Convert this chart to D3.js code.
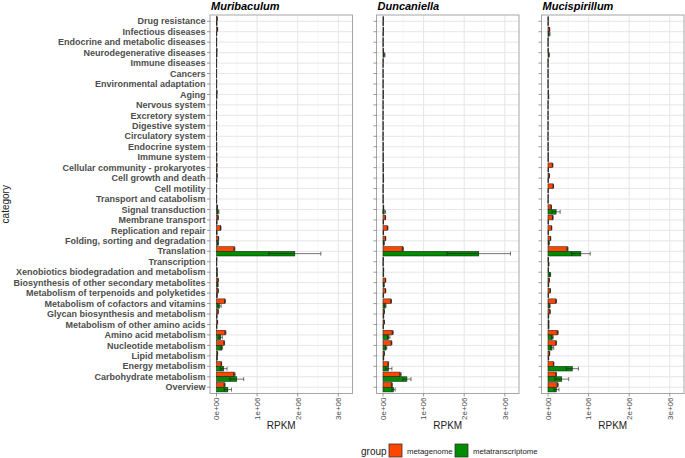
<!DOCTYPE html>
<html>
<head>
<meta charset="utf-8">
<script src="https://cdn.jsdelivr.net/npm/d3@7/dist/d3.min.js"></script>
<style>
  body { margin: 0; background: #fff; }
  svg { display: block; font-family: "Liberation Sans", Arial, sans-serif; }
</style>
</head>
<body>
<svg id="chart" width="685" height="458"></svg>
<script>
// ---------------- DATA ----------------
const categories = [
  "Drug resistance", "Infectious diseases", "Endocrine and metabolic diseases",
  "Neurodegenerative diseases", "Immune diseases", "Cancers", "Environmental adaptation",
  "Aging", "Nervous system", "Excretory system", "Digestive system", "Circulatory system",
  "Endocrine system", "Immune system", "Cellular community - prokaryotes",
  "Cell growth and death", "Cell motility", "Transport and catabolism", "Signal transduction",
  "Membrane transport", "Replication and repair", "Folding, sorting and degradation",
  "Translation", "Transcription", "Xenobiotics biodegradation and metabolism",
  "Biosynthesis of other secondary metabolites", "Metabolism of terpenoids and polyketides",
  "Metabolism of cofactors and vitamins", "Glycan biosynthesis and metabolism",
  "Metabolism of other amino acids", "Amino acid metabolism", "Nucleotide metabolism",
  "Lipid metabolism", "Energy metabolism", "Carbohydrate metabolism", "Overview"
];
const taxa = ["Muribaculum", "Duncaniella", "Mucispirillum"];
const groups = ["metagenome", "metatranscriptome"];
const groupColors = ["#FF4500", "#008B00"];
const xTicks = [0, 1e6, 2e6, 3e6];
const xTickLabels = ["0e+00", "1e+06", "2e+06", "3e+06"];
const xMinorTicks = [0.5e6, 1.5e6, 2.5e6];

// Muribaculum
const muriMG = [15000,25000,5000,10000,4000,3000,5000,12000,3000,2000,3000,2000,6000,8000,12000,15000,4000,5000,20000,40000,105000,50000,440000,8000,15000,40000,40000,210000,40000,25000,220000,190000,25000,120000,440000,200000];
const muriMGsd = [3000,5000,1000,2000,1000,1000,1000,3000,1000,1000,1000,1000,1000,2000,3000,3000,1000,1000,4000,5000,8000,5000,15000,2000,3000,5000,5000,10000,5000,4000,15000,10000,4000,8000,20000,15000];
const muriMT = [8000,5000,3000,8000,2000,2000,3000,8000,2000,1000,2000,1000,4000,6000,8000,8000,3000,4000,40000,10000,10000,40000,1930000,5000,15000,30000,15000,75000,10000,8000,105000,130000,15000,180000,500000,280000];
const muriMTsd = [3000,2000,1000,3000,1000,1000,1000,3000,1000,1000,1000,1000,2000,2000,3000,3000,1000,2000,20000,4000,4000,10000,640000,2000,5000,15000,5000,40000,4000,3000,40000,20000,5000,80000,170000,90000];

// Duncaniella
const duncMG = [8000,10000,3000,8000,3000,2000,3000,6000,2000,2000,2000,2000,4000,5000,6000,8000,3000,4000,15000,60000,115000,65000,490000,6000,15000,65000,65000,200000,30000,30000,240000,210000,30000,130000,430000,220000];
const duncMGsd = [2000,2000,1000,2000,1000,1000,1000,2000,1000,1000,1000,1000,1000,1000,2000,2000,1000,1000,3000,5000,8000,5000,15000,2000,3000,5000,5000,10000,4000,4000,15000,10000,4000,8000,20000,15000];
const duncMT = [5000,5000,3000,30000,2000,2000,2000,5000,2000,1000,2000,1000,3000,5000,6000,10000,3000,4000,30000,8000,10000,25000,2360000,4000,12000,25000,10000,55000,15000,8000,140000,75000,15000,140000,590000,260000];
const duncMTsd = [2000,2000,1000,20000,1000,1000,1000,2000,1000,1000,1000,1000,1000,2000,2000,5000,1000,2000,35000,3000,4000,8000,780000,2000,4000,8000,4000,20000,5000,3000,30000,20000,5000,80000,100000,40000];

// Mucispirillum
const muciMG = [5000,40000,3000,5000,2000,2000,2000,8000,2000,1000,2000,1000,4000,6000,115000,30000,130000,5000,80000,120000,90000,65000,480000,6000,10000,30000,55000,200000,50000,20000,240000,200000,40000,140000,200000,240000];
const muciMGsd = [1000,5000,1000,1000,1000,1000,1000,2000,1000,1000,1000,1000,1000,1000,8000,4000,8000,1000,6000,8000,6000,5000,15000,2000,2000,4000,5000,10000,5000,3000,15000,10000,4000,8000,10000,15000];
const muciMT = [3000,30000,2000,25000,2000,2000,2000,15000,1000,1000,1000,1000,3000,5000,8000,6000,5000,3000,200000,8000,8000,25000,810000,20000,55000,15000,10000,40000,15000,20000,110000,100000,15000,600000,340000,210000];
const muciMTsd = [1000,20000,1000,8000,1000,1000,1000,5000,1000,1000,1000,1000,1000,2000,3000,3000,2000,1000,100000,3000,3000,8000,230000,5000,10000,5000,4000,15000,5000,5000,20000,40000,5000,150000,170000,60000];

const seriesByTaxon = [
  [[muriMG, muriMGsd], [muriMT, muriMTsd]],
  [[duncMG, duncMGsd], [duncMT, duncMTsd]],
  [[muciMG, muciMGsd], [muciMT, muciMTsd]]
];

// ---------------- LAYOUT ----------------
const svg = d3.select("#chart");
const panelLefts = [210, 376.5, 541.5];
const panelW = 142.5;
const panelTop = 15, panelBottom = 393.5;

const y = d3.scaleBand()
  .domain(categories)
  .range([panelTop, panelBottom])
  .paddingInner(0)
  .paddingOuter(0.1);
const dodge = d3.scaleBand().domain(groups).range([0, y.bandwidth() * 0.9]).padding(0);

const textGray = "#4d4d4d";

taxa.forEach((taxon, ti) => {
  const left = panelLefts[ti];
  const x = d3.scaleLinear().domain([-0.16e6, 3.35e6]).range([left, left + panelW]);
  const g = svg.append("g");

  g.append("rect").attr("x", left).attr("y", panelTop).attr("width", panelW)
    .attr("height", panelBottom - panelTop).attr("fill", "#fff");

  g.selectAll(".minor").data(xMinorTicks).join("line")
    .attr("x1", d => x(d)).attr("x2", d => x(d))
    .attr("y1", panelTop).attr("y2", panelBottom)
    .attr("stroke", "#f2f2f2").attr("stroke-width", 0.6);
  g.selectAll(".majx").data(xTicks).join("line")
    .attr("x1", d => x(d)).attr("x2", d => x(d))
    .attr("y1", panelTop).attr("y2", panelBottom)
    .attr("stroke", "#e6e6e6").attr("stroke-width", 1);
  g.selectAll(".majy").data(categories).join("line")
    .attr("x1", left).attr("x2", left + panelW)
    .attr("y1", d => y(d) + y.bandwidth() / 2).attr("y2", d => y(d) + y.bandwidth() / 2)
    .attr("stroke", "#e6e6e6").attr("stroke-width", 1);

  groups.forEach((grp, gi) => {
    const vals = seriesByTaxon[ti][gi][0];
    const sds = seriesByTaxon[ti][gi][1];
    const data = categories.map((c, i) => ({ c, v: vals[i], sd: sds[i] }));
    const off = y.bandwidth() * 0.05;
    g.append("g").selectAll("rect").data(data).join("rect")
      .attr("x", x(0))
      .attr("y", d => y(d.c) + off + dodge(grp))
      .attr("width", d => Math.max(0, x(d.v) - x(0)))
      .attr("height", dodge.bandwidth())
      .attr("fill", groupColors[gi])
      .attr("stroke", "#1a1a1a").attr("stroke-width", 0.5);
    const eg = g.append("g").attr("stroke", "#1a1a1a").attr("stroke-width", 0.6);
    data.forEach(d => {
      const cy = y(d.c) + off + dodge(grp) + dodge.bandwidth() / 2;
      const x1 = x(d.v - d.sd), x2 = x(d.v + d.sd);
      eg.append("line").attr("x1", x1).attr("x2", x2).attr("y1", cy).attr("y2", cy);
      eg.append("line").attr("x1", x1).attr("x2", x1).attr("y1", cy - 2).attr("y2", cy + 2);
      eg.append("line").attr("x1", x2).attr("x2", x2).attr("y1", cy - 2).attr("y2", cy + 2);
    });
  });

  g.append("rect").attr("x", left).attr("y", panelTop).attr("width", panelW)
    .attr("height", panelBottom - panelTop).attr("fill", "none")
    .attr("stroke", "#a6a6a6").attr("stroke-width", 1);

  g.selectAll(".yt").data(categories).join("line")
    .attr("x1", left - 3).attr("x2", left)
    .attr("y1", d => y(d) + y.bandwidth() / 2).attr("y2", d => y(d) + y.bandwidth() / 2)
    .attr("stroke", "#555").attr("stroke-width", 0.6);

  g.selectAll(".xt").data(xTicks).join("line")
    .attr("x1", d => x(d)).attr("x2", d => x(d))
    .attr("y1", panelBottom).attr("y2", panelBottom + 3)
    .attr("stroke", "#555").attr("stroke-width", 0.6);
  g.selectAll(".xl").data(xTicks).join("text")
    .attr("transform", d => `translate(${x(d)},${panelBottom + 4}) rotate(-90)`)
    .attr("text-anchor", "end").attr("dy", "0.35em")
    .attr("font-size", 8).attr("fill", textGray)
    .text((d, i) => xTickLabels[i]);

  g.append("text").attr("x", left + panelW / 2).attr("y", 428.5)
    .attr("text-anchor", "middle").attr("font-size", 10).attr("fill", "#222")
    .text("RPKM");

  g.append("text").attr("x", left + 1).attr("y", 9.6)
    .attr("font-size", 11).attr("font-weight", "bold").attr("font-style", "italic")
    .attr("fill", "#000").text(taxon);

  if (ti === 0) {
    g.selectAll(".yl").data(categories).join("text")
      .attr("x", left - 4.5).attr("y", d => y(d) + y.bandwidth() / 2)
      .attr("dy", "0.35em").attr("text-anchor", "end")
      .attr("font-size", 9).attr("font-weight", "bold").attr("fill", textGray)
      .text(d => d);
  }
});

svg.append("text").attr("transform", `translate(8.5,${(panelTop + panelBottom) / 2}) rotate(-90)`)
  .attr("text-anchor", "middle").attr("font-size", 10).attr("fill", "#222")
  .text("category");

const lg = svg.append("g");
lg.append("text").attr("x", 361).attr("y", 455).attr("font-size", 10).attr("fill", "#222").text("group");
const keyX = [389, 455];
groups.forEach((grp, gi) => {
  lg.append("rect").attr("x", keyX[gi]).attr("y", 444).attr("width", 13).attr("height", 13)
    .attr("fill", groupColors[gi]).attr("stroke", "#333").attr("stroke-width", 0.8);
  lg.append("text").attr("x", keyX[gi] + 18).attr("y", 453.5).attr("font-size", 7.8)
    .attr("fill", "#222").text(grp);
});
</script>
</body>
</html>
